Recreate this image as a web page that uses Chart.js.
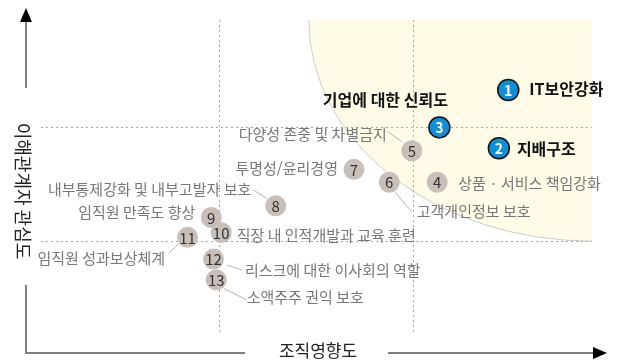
<!DOCTYPE html>
<html lang="ko">
<head>
<meta charset="utf-8">
<title>중대성 평가 매트릭스</title>
<script src="https://cdn.jsdelivr.net/npm/chart.js@4/dist/chart.umd.min.js"></script>
<style>
  html, body { margin: 0; padding: 0; background: #fff; }
  #wrap { width: 618px; height: 361px; }
</style>
</head>
<body>
<div id="wrap"><canvas id="matrix" width="618" height="361"></canvas></div>
<script>
// 이슈 번호 / 이름
const itemNo = [1, 2, 3, 4, 5, 6, 7, 8, 9, 10, 11, 12, 13];
const itemName = [
  'IT보안강화', '지배구조', '기업에 대한 신뢰도', '상품 · 서비스 책임강화',
  '다양성 존중 및 차별금지', '고객개인정보 보호', '투명성/윤리경영',
  '내부통제강화 및 내부고발자 보호', '임직원 만족도 향상',
  '직장 내 인적개발과 교육 훈련', '임직원 성과보상체계',
  '리스크에 대한 이사회의 역할', '소액주주 권익 보호'
];
// 조직영향도 (x), 이해관계자 관심도 (y), 0~100
const orgImpact = [84.8, 83.1, 72.3, 71.9, 67.3, 63.2, 56.8, 42.6, 30.9, 32.7, 26.6, 31.3, 31.8];
const concern   = [77.8, 59.3, 65.9, 48.5, 58.5, 48.5, 52.6, 41.0, 37.3, 32.5, 31.0, 24.1, 17.5];
const keyIssues = [1, 2, 3];
// 구분선, 중대 이슈 영역 경계
const impactCuts = [32.3, 67.5];
const concernCuts = [29.8, 66];
const zoneFrom = { impact: 48.6, concern: 29.8 };
const axisTitle = { x: '조직영향도', y: '이해관계자 관심도' };

// label placement, px offsets from the bubble centre
const labelAt = [
  { dx: 21, dy: -1, align: 'left' },
  { dx: 18, dy: 1, align: 'left' },
  { dx: -54, dy: -27, align: 'center' },
  { dx: 21, dy: 1.5, align: 'left' },
  { dx: -25, dy: -16, align: 'right', leader: [-24, -19, -10, -9] },
  { dx: 27.5, dy: 29.5, align: 'left', leader: [5.5, 9.5, 22.5, 29.5] },
  { dx: -16, dy: -1.5, align: 'right' },
  { dx: -24.5, dy: -16.5, align: 'right', leader: [-22.5, -16, -9, -7.5] },
  { dx: -16, dy: -5, align: 'right' },
  { dx: 15.5, dy: 2.5, align: 'left' },
  { dx: -22.5, dy: 21, align: 'right', leader: [-19, 16, -9, 6.5] },
  { dx: 31.5, dy: 11, align: 'left', leader: [13.5, 6, 28.5, 11] },
  { dx: 30.5, dy: 17.5, align: 'left', leader: [7.5, 8.5, 30.5, 20] }
];

const FONT = '"Noto Sans CJK KR", "Noto Sans", sans-serif';
const BLUE = '#0f8fd8';
const GREY = '#c8bfb9';

const matrixDecor = {
  id: 'matrixDecor',
  beforeDatasetsDraw(chart) {
    const { ctx, chartArea: a, scales: { x, y } } = chart;
    const cx = x.getPixelForValue(100), cy = y.getPixelForValue(100);
    const rx = cx - x.getPixelForValue(zoneFrom.impact);
    const ry = y.getPixelForValue(zoneFrom.concern) - cy;

    ctx.save();
    ctx.beginPath();
    ctx.rect(a.left, a.top, a.right - a.left, a.bottom - a.top);
    ctx.clip();
    ctx.beginPath();
    ctx.ellipse(cx, cy, rx, ry, 0, 0, Math.PI * 2);
    ctx.fillStyle = '#fffbe6';
    ctx.fill();
    ctx.strokeStyle = '#cdcdcd';
    ctx.lineWidth = 1;
    ctx.stroke();
    ctx.restore();

    ctx.save();
    ctx.strokeStyle = '#a8a8a8';
    ctx.lineWidth = 1;
    ctx.setLineDash([2, 3]);
    impactCuts.forEach(v => {
      const px = Math.round(x.getPixelForValue(v)) + 0.5;
      ctx.beginPath(); ctx.moveTo(px, a.top); ctx.lineTo(px, a.bottom); ctx.stroke();
    });
    concernCuts.forEach(v => {
      const py = Math.round(y.getPixelForValue(v)) + 0.5;
      ctx.beginPath(); ctx.moveTo(a.left, py); ctx.lineTo(a.right, py); ctx.stroke();
    });
    ctx.setLineDash([]);

    // leader lines
    ctx.strokeStyle = '#b5b5b5';
    itemNo.forEach((n, i) => {
      const l = labelAt[i].leader;
      if (!l) return;
      const px = x.getPixelForValue(orgImpact[i]), py = y.getPixelForValue(concern[i]);
      ctx.beginPath();
      ctx.moveTo(px + l[0], py + l[1]);
      ctx.lineTo(px + l[2], py + l[3]);
      ctx.stroke();
    });
    ctx.restore();
  },
  afterDatasetsDraw(chart) {
    const { ctx, scales: { x, y } } = chart;
    ctx.save();
    ctx.textBaseline = 'middle';
    itemNo.forEach((n, i) => {
      const px = x.getPixelForValue(orgImpact[i]), py = y.getPixelForValue(concern[i]);
      const key = keyIssues.includes(n);
      ctx.textAlign = 'center';
      ctx.fillStyle = key ? '#fff' : '#333';
      ctx.font = (key ? 'bold 14px ' : '15px ') + FONT;
      ctx.fillText(String(n), px, py + 0.5);

      const p = labelAt[i];
      ctx.textAlign = p.align;
      ctx.fillStyle = key ? '#111' : '#777';
      ctx.font = (key ? 'bold 16px ' : '15px ') + FONT;
      ctx.fillText(itemName[i], px + p.dx, py + p.dy);
    });
    ctx.restore();
  },
  afterDraw(chart) {
    const { ctx } = chart;
    ctx.save();
    ctx.strokeStyle = '#7f7f7f';
    ctx.lineWidth = 2;
    ctx.beginPath();
    ctx.moveTo(26, 88); ctx.lineTo(26, 20);
    ctx.moveTo(26, 285); ctx.lineTo(26, 353); ctx.lineTo(245, 353);
    ctx.moveTo(388, 353); ctx.lineTo(596, 353);
    ctx.stroke();

    ctx.fillStyle = '#000';
    ctx.beginPath();
    ctx.moveTo(26, 8); ctx.lineTo(32, 22); ctx.lineTo(20, 22); ctx.closePath(); ctx.fill();
    ctx.beginPath();
    ctx.moveTo(607, 353); ctx.lineTo(593, 347); ctx.lineTo(593, 359); ctx.closePath(); ctx.fill();

    ctx.fillStyle = '#222';
    ctx.textBaseline = 'middle';
    ctx.textAlign = 'center';
    ctx.font = '17px ' + FONT;
    ctx.fillText(axisTitle.x, 318, 351);

    ctx.translate(23, 191);
    ctx.rotate(Math.PI / 2);
    ctx.font = '18px ' + FONT;
    ctx.fillText(axisTitle.y, 0, 0);
    ctx.restore();
  }
};

const points = itemNo.map((n, i) => ({ x: orgImpact[i], y: concern[i] }));

new Chart(document.getElementById('matrix'), {
  type: 'bubble',
  data: {
    datasets: [{
      data: points,
      radius: 10.5,
      backgroundColor: ctx => keyIssues.includes(itemNo[ctx.dataIndex]) ? BLUE : GREY,
      borderColor: ctx => keyIssues.includes(itemNo[ctx.dataIndex]) ? '#111' : GREY,
      borderWidth: ctx => keyIssues.includes(itemNo[ctx.dataIndex]) ? 1.5 : 0,
      clip: false
    }]
  },
  options: {
    responsive: false,
    animation: false,
    devicePixelRatio: 1,
    layout: { padding: { left: 41, right: 26, top: 20, bottom: 26 } },
    scales: {
      x: { type: 'linear', min: 0, max: 100, display: false },
      y: { type: 'linear', min: 0, max: 100, display: false }
    },
    plugins: {
      legend: { display: false },
      tooltip: { enabled: false }
    },
    events: []
  },
  plugins: [matrixDecor]
});
</script>
</body>
</html>
